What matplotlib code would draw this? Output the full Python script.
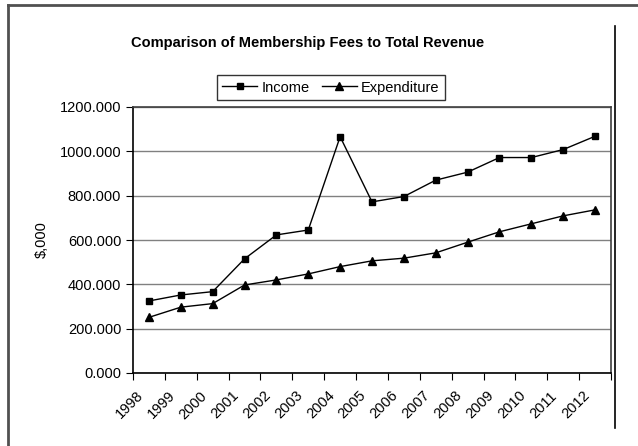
import matplotlib
matplotlib.use("Agg")
import matplotlib.pyplot as plt
import matplotlib.transforms as mtransforms
from matplotlib.lines import Line2D
import numpy as np

years = ["1998", "1999", "2000", "2001", "2002", "2003", "2004", "2005",
         "2006", "2007", "2008", "2009", "2010", "2011", "2012"]
income = [325, 352, 367, 515, 623, 645, 1066, 772, 796, 870, 906, 972, 972, 1008, 1068]
expenditure = [251, 297, 313, 397, 420, 447, 480, 506, 518, 542, 590, 637, 673, 709, 736]

plt.rcParams["font.family"] = ["Liberation Sans", "DejaVu Sans"]

fig = plt.figure(figsize=(6.38, 4.46), dpi=100)
W, H = 638, 446
ax = fig.add_axes([133 / W, 1 - 373 / H, (611 - 133) / W, (373 - 107) / H])

x = np.arange(len(years)) + 0.5
ax.plot(x, income, color="black", lw=1, marker="s", ms=5, label="Income")
ax.plot(x, expenditure, color="black", lw=1, marker="^", ms=6, label="Expenditure")

ax.set_xlim(0, len(years))
ax.set_ylim(0, 1200)
ax.set_yticks(range(0, 1201, 200))
ax.set_yticklabels(["%.3f" % v for v in range(0, 1201, 200)], fontsize=10.5)
ax.yaxis.grid(True, color="#808080", lw=1)
ax.set_axisbelow(True)

ax.set_xticks(np.arange(len(years) + 1))
ax.set_xticklabels([])
ax.set_xticks(x, minor=True)
ax.set_xticklabels(years, minor=True, rotation=45, ha="right", va="top",
                   rotation_mode="anchor", fontsize=10.5)
ax.tick_params(axis="x", which="minor", length=0, pad=4)
ax.tick_params(axis="both", which="major", length=5, direction="out", color="black")
offset = mtransforms.ScaledTranslation(-13 / 100, -10 / 100, fig.dpi_scale_trans)
for lbl in ax.xaxis.get_minorticklabels():
    lbl.set_transform(lbl.get_transform() + offset)

for side in ["left", "bottom"]:
    ax.spines[side].set_color("black")
    ax.spines[side].set_linewidth(1.2)
for side in ["top", "right"]:
    ax.spines[side].set_color("#404040")
    ax.spines[side].set_linewidth(1.2)

ax.set_ylabel("$,000", fontsize=10.5, labelpad=8)

fig.text(308 / W, 1 - 43 / H, "Comparison of Membership Fees to Total Revenue",
         ha="center", va="center", fontsize=10.5, fontweight="bold")

leg = fig.legend(loc="center", bbox_to_anchor=(331 / W, 1 - 87.5 / H), ncol=2,
                 fontsize=10.5, frameon=True, fancybox=False, edgecolor="black",
                 handlelength=2.4, handletextpad=0.3, columnspacing=0.8,
                 borderpad=0.35, borderaxespad=0)
leg.get_frame().set_linewidth(1)

# chart border lines
fig.add_artist(Line2D([8 / W, 8 / W], [0, 1 - 5 / H], transform=fig.transFigure,
                      color="#505050", lw=2))
fig.add_artist(Line2D([8 / W, 1], [1 - 5 / H, 1 - 5 / H], transform=fig.transFigure,
                      color="#505050", lw=2))
fig.add_artist(Line2D([615 / W, 615 / W], [1 - 428 / H, 1 - 26 / H],
                      transform=fig.transFigure, color="black", lw=1.2))

fig.savefig("out.png", dpi=100)
